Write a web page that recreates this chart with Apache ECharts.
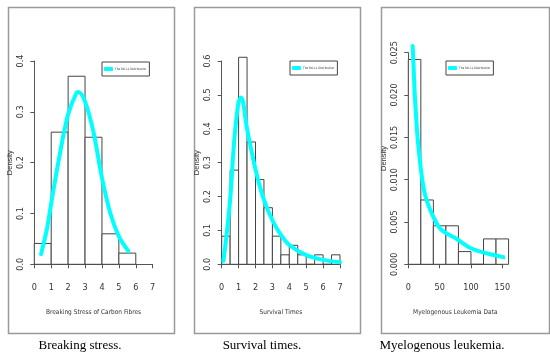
<!DOCTYPE html>
<html>
<head>
<meta charset="utf-8">
<script src="https://cdn.jsdelivr.net/npm/echarts@6/dist/echarts.min.js"></script>
<style>html,body{margin:0;padding:0;background:#fff}#c{width:550px;height:363px}</style>
</head>
<body>
<div id="c"></div>
<script>
// ---- Data: Breaking stress of carbon fibres ----
const stressEdges = [0, 1, 2, 3, 4, 5, 6];
const stressDens = [0.041, 0.26, 0.37, 0.25, 0.06, 0.022];
const stressCurveX = [0.4, 0.75, 1, 1.5, 2, 2.5, 2.6, 3, 3.5, 4, 4.5, 5, 5.56];
const stressCurveY = [0.02, 0.07, 0.12, 0.215, 0.295, 0.338, 0.339, 0.32, 0.26, 0.17, 0.10, 0.055, 0.026];
const stressXTicks = [0, 1, 2, 3, 4, 5, 6, 7];
const stressYTicks = [0, 0.1, 0.2, 0.3, 0.4];

// ---- Data: Survival times ----
const survEdges = [0, 0.5, 1, 1.5, 2, 2.5, 3, 3.5, 4, 4.5, 5, 5.5, 6, 6.5, 7];
const survDens = [0.083, 0.278, 0.611, 0.361, 0.25, 0.167, 0.083, 0.028, 0.056, 0.028, 0, 0.028, 0, 0.028];
const survCurveX = [0.1, 0.25, 0.5, 0.75, 1.0, 1.15, 1.5, 2, 2.5, 3, 3.5, 4, 5, 6, 7];
const survCurveY = [0.01, 0.07, 0.19, 0.37, 0.48, 0.492, 0.40, 0.28, 0.19, 0.13, 0.087, 0.057, 0.027, 0.013, 0.006];
const survXTicks = [0, 1, 2, 3, 4, 5, 6, 7];
const survYTicks = [0, 0.1, 0.2, 0.3, 0.4, 0.5, 0.6];

// ---- Data: Myelogenous leukemia ----
const leukEdges = [0, 20, 40, 60, 80, 100, 120, 140, 160];
const leukDens = [0.0242, 0.0076, 0.00455, 0.00455, 0.0015, 0, 0.003, 0.003];
const leukCurveX = [7, 8.5, 10, 12, 15, 20, 25, 30, 40, 50, 60, 75, 100, 125, 155];
const leukCurveY = [0.0258, 0.0232, 0.0205, 0.018, 0.0148, 0.0113, 0.0088, 0.0074, 0.0056, 0.0043, 0.0037, 0.0031, 0.0019, 0.0013, 0.0008];
const leukXTicks = [0, 50, 100, 150];
const leukYTicks = [0, 0.005, 0.01, 0.015, 0.02, 0.025];

const seriesName = 'The RG-LL Distribution';
const xTitles = ['Breaking Stress of Carbon Fibres', 'Survival Times', 'Myelogenous Leukemia Data'];
const captions = ['Breaking stress.', 'Survival times.', 'Myelogenous leukemia.'];

const narrow = "'Liberation Sans Narrow','DejaVu Sans Condensed','Liberation Sans',Arial,sans-serif";

const panels = [
  {edges: stressEdges, dens: stressDens, cx: stressCurveX, cy: stressCurveY, xt: stressXTicks, yt: stressYTicks, yDec: 1,
   grid: {left: 34.3, top: 61, width: 118.4, height: 203.3}, legend: {left: 102, top: 62}, box: [6, 5, 166, 326], cap: 80},
  {edges: survEdges, dens: survDens, cx: survCurveX, cy: survCurveY, xt: survXTicks, yt: survYTicks, yDec: 1,
   grid: {left: 221.7, top: 61, width: 118.3, height: 203.3}, legend: {left: 290, top: 61}, box: [192, 5, 166, 326], cap: 262},
  {edges: leukEdges, dens: leukDens, cx: leukCurveX, cy: leukCurveY, xt: leukXTicks, yt: leukYTicks, yDec: 3,
   grid: {left: 408.3, top: 52.7, width: 94, height: 211.6}, legend: {left: 446, top: 61}, box: [379, 5, 168, 326], cap: 442}
];

const grids = [], xAxes = [], yAxes = [], series = [], legends = [], graphics = [];
panels.forEach((p, i) => {
  grids.push(p.grid);
  xAxes.push({
    type: 'value', gridIndex: i, min: p.xt[0], max: p.xt[p.xt.length - 1], interval: p.xt[1] - p.xt[0],
    offset: 8.4, splitLine: {show: false},
    axisLine: {lineStyle: {color: '#555', width: 1}}, axisTick: {length: 4, lineStyle: {color: '#555'}},
    axisLabel: {fontSize: 9, color: '#333', margin: 10, fontFamily: narrow},
    name: xTitles[i], nameLocation: 'middle', nameGap: 36,
    nameTextStyle: {fontSize: 6.5, color: '#333', fontFamily: narrow}
  });
  yAxes.push({
    type: 'value', gridIndex: i, min: p.yt[0], max: p.yt[p.yt.length - 1], interval: p.yt[1] - p.yt[0],
    offset: 4.3, splitLine: {show: false},
    axisLine: {show: true, lineStyle: {color: '#555', width: 1}}, axisTick: {show: true, length: 4, lineStyle: {color: '#555'}},
    axisLabel: {fontSize: 9, color: '#333', rotate: 90, margin: 5, align: 'center', verticalAlign: 'bottom',
      fontFamily: narrow, formatter: v => v.toFixed(p.yDec)},
    name: 'Density', nameLocation: 'middle', nameGap: 16, nameRotate: 90,
    nameTextStyle: {fontSize: 7.5, color: '#333', fontFamily: "'Liberation Sans',Arial,sans-serif"}
  });
  const hist = p.dens.map((d, k) => [p.edges[k], p.edges[k + 1], d]);
  series.push({
    type: 'custom', xAxisIndex: i, yAxisIndex: i, data: hist, clip: false, silent: true,
    encode: {x: [0, 1], y: 2},
    renderItem: (params, api) => {
      const a = api.coord([api.value(0), api.value(2)]);
      const b = api.coord([api.value(1), 0]);
      return {type: 'rect', shape: {x: a[0], y: a[1], width: b[0] - a[0], height: b[1] - a[1]},
        style: {fill: '#fff', stroke: '#444', lineWidth: 1}};
    }
  });
  series.push({
    type: 'line', name: seriesName, xAxisIndex: i, yAxisIndex: i, smooth: 0.35,
    showSymbol: false, clip: false,
    data: p.cx.map((x, k) => [x, p.cy[k]]),
    lineStyle: {color: '#00FFFF', width: 4, cap: 'round'}, itemStyle: {color: '#00FFFF'}
  });
  legends.push({
    left: p.legend.left, top: p.legend.top, orient: 'vertical', data: [{name: seriesName, icon: 'roundRect'}],
    borderColor: '#444', borderWidth: 1, padding: [5, 3, 5, 2], itemWidth: 9, itemHeight: 4, itemGap: 0,
    textStyle: {fontSize: 3.1, color: '#333', padding: [0, 0, 0, -3], fontFamily: narrow}, selectedMode: false
  });
  graphics.push({type: 'rect', left: p.box[0], top: p.box[1], shape: {width: p.box[2], height: p.box[3]},
    style: {fill: null, stroke: '#9a9a9a', lineWidth: 1.5}, z: -1});
  graphics.push({type: 'text', x: p.cap, y: 346,
    style: {text: captions[i], fill: '#000', font: "13px 'Liberation Serif','Times New Roman',serif",
      textAlign: 'center', textVerticalAlign: 'middle'}});
});

const chart = echarts.init(document.getElementById('c'));
chart.setOption({
  animation: false, backgroundColor: '#fff',
  grid: grids, xAxis: xAxes, yAxis: yAxes, series: series, legend: legends, graphic: graphics
});
</script>
</body>
</html>
